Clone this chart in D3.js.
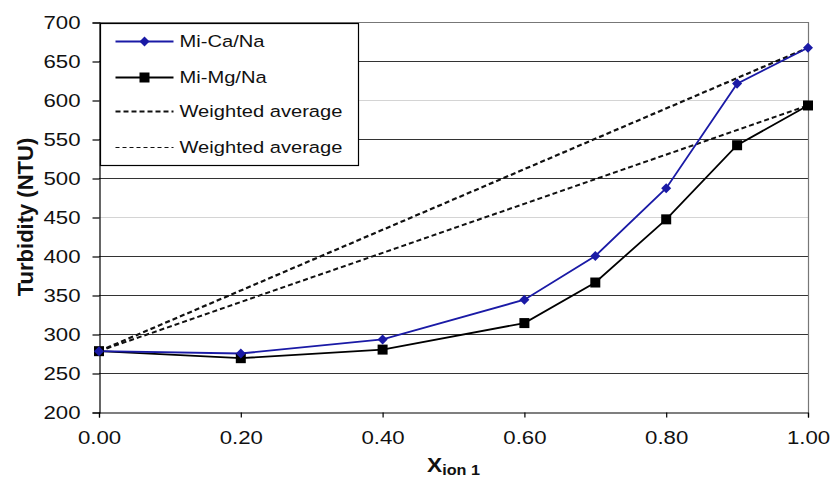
<!DOCTYPE html>
<html>
<head>
<meta charset="utf-8">
<script src="https://cdn.jsdelivr.net/npm/d3@7"></script>
<style>
  body { margin: 0; background: #fff; }
  svg { font-family: "Liberation Sans", Arial, sans-serif; }
</style>
</head>
<body>
<svg id="chart" width="831" height="494"></svg>
<script>
// data

var xValues = [0, 0.2, 0.4, 0.6, 0.7, 0.8, 0.9, 1.0];
var caValues = [278, 275, 293, 344, 400, 487, 621, 667];
var mgValues = [278, 269, 280, 314, 366, 447, 542, 593];
var avgCaValues = [278, 667];
var avgMgValues = [278, 593];
var avgX = [0, 1];
var xTicks = [0, 0.2, 0.4, 0.6, 0.8, 1.0];
var yTicks = [200, 250, 300, 350, 400, 450, 500, 550, 600, 650, 700];
var lightGrid = [450, 600];
var legendLabels = ["Mi-Ca/Na", "Mi-Mg/Na", "Weighted average", "Weighted average"];

// layout (note: "top" is taken by window.top)

var svg = d3.select("#chart");
var plotLeft = 99, plotRight = 808, plotTop = 22, plotBottom = 412;
var blue = "#1a1aa6";
var stretch = 1.17;

var x = d3.scaleLinear().domain([0, 1]).range([plotLeft, plotRight]);
var y = d3.scaleLinear().domain([200, 700]).range([plotBottom, plotTop]);

// horizontal grid

svg.append("g")
  .selectAll("line")
  .data(yTicks.filter(function (d) { return d > 200 && d < 700; }))
  .enter()
  .append("line")
  .attr("x1", plotLeft).attr("x2", plotRight)
  .attr("y1", function (d) { return y(d) + 0.5; })
  .attr("y2", function (d) { return y(d) + 0.5; })
  .attr("stroke", function (d) { return lightGrid.indexOf(d) >= 0 ? "#d4d4d4" : "#333"; })
  .attr("stroke-width", 1.2);

// frame: top and right in grey

svg.append("path")
  .attr("d", "M" + plotLeft + "," + (plotTop + 0.5) + "H" + (plotRight + 0.5) + "V" + plotBottom)
  .attr("fill", "none")
  .attr("stroke", "#777")
  .attr("stroke-width", 1.2);

// axes

var yAxis = d3.axisLeft(y).tickValues(yTicks).tickSize(7).tickPadding(12).tickFormat(d3.format("d"));
var xAxis = d3.axisBottom(x).tickValues(xTicks).tickSize(5).tickPadding(13).tickFormat(d3.format(".2f"));

var gy = svg.append("g").attr("transform", "translate(" + (plotLeft + 0.5) + ",0.5)").call(yAxis);
var gx = svg.append("g").attr("transform", "translate(0," + (plotBottom + 0.5) + ")").call(xAxis);

[gx, gy].forEach(function (g) {
  g.select(".domain").attr("stroke", "#000").attr("stroke-width", 1.2);
  g.selectAll(".tick line").attr("stroke", "#000").attr("stroke-width", 1.2);
  g.selectAll(".tick text")
    .attr("fill", "#111")
    .style("font-size", "19px")
    .style("font-family", "Liberation Sans, Arial, sans-serif");
});

// widen the tick labels a little, like the source
gy.selectAll(".tick text").each(function () {
  var t = d3.select(this);
  var xx = +t.attr("x");
  t.attr("x", xx / stretch).attr("transform", "scale(" + stretch + ",1)");
});
gx.selectAll(".tick text").attr("transform", "scale(" + stretch + ",1)");

// weighted average lines

var avgLine = d3.line()
  .x(function (d, i) { return x(avgX[i]); })
  .y(function (d) { return y(d); });

svg.append("path")
  .attr("d", avgLine(avgCaValues))
  .attr("fill", "none").attr("stroke", "#111")
  .attr("stroke-width", 2.2).attr("stroke-dasharray", "5,3");

svg.append("path")
  .attr("d", avgLine(avgMgValues))
  .attr("fill", "none").attr("stroke", "#111")
  .attr("stroke-width", 2).attr("stroke-dasharray", "5,3");

// series lines

var line = d3.line()
  .x(function (d, i) { return x(xValues[i]); })
  .y(function (d) { return y(d); });

svg.append("path")
  .attr("d", line(mgValues))
  .attr("fill", "none").attr("stroke", "#000").attr("stroke-width", 1.8);

svg.append("path")
  .attr("d", line(caValues))
  .attr("fill", "none").attr("stroke", blue).attr("stroke-width", 1.8);

// markers

svg.append("g")
  .selectAll("rect")
  .data(mgValues)
  .enter()
  .append("rect")
  .attr("x", function (d, i) { return x(xValues[i]) - 5; })
  .attr("y", function (d) { return y(d) - 5; })
  .attr("width", 10).attr("height", 10)
  .attr("fill", "#000");

var diamond = d3.symbol().type(d3.symbolDiamond2).size(64);

svg.append("g")
  .selectAll("path")
  .data(caValues)
  .enter()
  .append("path")
  .attr("d", diamond)
  .attr("transform", function (d, i) { return "translate(" + x(xValues[i]) + "," + y(d) + ")"; })
  .attr("fill", blue);

// legend

var legend = svg.append("g").attr("transform", "translate(100.5,23.5)");

legend.append("rect")
  .attr("width", 258).attr("height", 142)
  .attr("fill", "#fff").attr("stroke", "#000").attr("stroke-width", 1.2);

var rowY = [18, 54, 88, 124];
var styles = [
  { color: blue, width: 1.8, dash: null, marker: "diamond" },
  { color: "#000", width: 1.8, dash: null, marker: "square" },
  { color: "#111", width: 2.2, dash: "5,3", marker: null },
  { color: "#111", width: 1.2, dash: "4,3", marker: null }
];

var rows = legend.selectAll(".row")
  .data(legendLabels)
  .enter()
  .append("g")
  .attr("class", "row")
  .attr("transform", function (d, i) { return "translate(0," + rowY[i] + ")"; });

rows.append("line")
  .attr("x1", 15).attr("x2", 73)
  .attr("stroke", function (d, i) { return styles[i].color; })
  .attr("stroke-width", function (d, i) { return styles[i].width; })
  .attr("stroke-dasharray", function (d, i) { return styles[i].dash; });

rows.filter(function (d, i) { return styles[i].marker === "diamond"; })
  .append("path")
  .attr("d", diamond)
  .attr("transform", "translate(44,0)")
  .attr("fill", blue);

rows.filter(function (d, i) { return styles[i].marker === "square"; })
  .append("rect")
  .attr("x", 39).attr("y", -5).attr("width", 10).attr("height", 10)
  .attr("fill", "#000");

rows.append("text")
  .attr("transform", "translate(79,0) scale(1.22,1)")
  .attr("dy", "0.35em")
  .attr("fill", "#111")
  .style("font-size", "16.5px")
  .text(function (d) { return d; });

// axis titles

svg.append("text")
  .attr("transform", "translate(33," + ((plotTop + plotBottom) / 2) + ") rotate(-90)")
  .attr("text-anchor", "middle")
  .style("font-size", "22px")
  .style("font-weight", "bold")
  .attr("fill", "#111")
  .text("Turbidity (NTU)");

var xt = svg.append("text")
  .attr("transform", "translate(" + ((plotLeft + plotRight) / 2) + ",472) scale(1.08,1)")
  .attr("text-anchor", "middle")
  .attr("fill", "#111")
  .style("font-weight", "bold");

xt.append("tspan").style("font-size", "21px").text("X");
xt.append("tspan").style("font-size", "15px").attr("dy", 3).text("ion 1");
</script>
</body>
</html>
